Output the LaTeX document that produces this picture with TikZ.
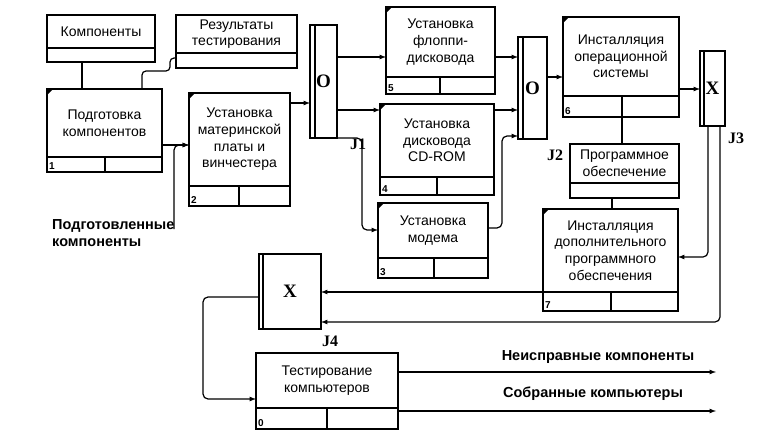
\documentclass[tikz,border=0pt]{standalone}
\usepackage{fontspec}
\setmainfont{Liberation Sans}
\newfontfamily\jfont{Liberation Serif}

\begin{document}
\begin{tikzpicture}[x=1pt, y=-1pt,
    act/.style={draw, line width=2pt, outer sep=0pt, inner sep=1pt, anchor=north west, align=center, font=\fontsize{14}{16.7}\selectfont},
    strip/.style={draw, line width=2pt, outer sep=0pt, anchor=north west},
    divline/.style={line width=2pt},
    num/.style={anchor=south west, inner sep=2pt, font=\bfseries\fontsize{10}{10}\selectfont},
    cornermark/.style={path picture={\fill (path picture bounding box.north west) -- ++(6pt,0pt) -- ++(-6pt,-6pt) -- cycle;}},
    junc/.style={draw, line width=2pt, outer sep=0pt, anchor=north west, font=\jfont\bfseries\fontsize{19}{19}\selectfont},
    jlab/.style={font=\jfont\bfseries\fontsize{16}{16}\selectfont},
    flow/.style={font=\bfseries\fontsize{14.5}{17}\selectfont},
    link/.style={line width=1.2pt},
    arr/.style={line width=1.2pt, -latex, rounded corners=5pt}]
    \useasboundingbox (0,0) rectangle (777,436);

    % boxes
    \node[act, minimum width=108, minimum height=33] (comp) at (47,15) {Компоненты};
    \node[strip, minimum width=108, minimum height=14] (comps) at (comp.south west) {};

    \node[act, minimum width=121, minimum height=38] (res) at (176,15) {Результаты\\тестирования};
    \node[strip, minimum width=121, minimum height=15] (ress) at (res.south west) {};

    \node[act, cornermark, minimum width=115, minimum height=68] (b1) at (47,89) {Подготовка\\компонентов};
    \node[strip, minimum width=115, minimum height=15] (b1s) at (b1.south west) {};
    \draw[divline] (b1s.north -| 105,0) -- (b1s.south -| 105,0);
    \node[num] (n1) at (b1s.south west) {1};

    \node[act, cornermark, minimum width=101, minimum height=93] (b2) at (189,93) {Установка\\материнской\\платы и\\винчестера};
    \node[strip, minimum width=101, minimum height=20] (b2s) at (b2.south west) {};
    \draw[divline] (b2s.north -| 239,0) -- (b2s.south -| 239,0);
    \node[num] (n2) at (b2s.south west) {2};

    \node[act, cornermark, minimum width=109, minimum height=70] (b5) at (386,7) {Установка\\флоппи-\\дисковода};
    \node[strip, minimum width=109, minimum height=17] (b5s) at (b5.south west) {};
    \draw[divline] (b5s.north -| 440,0) -- (b5s.south -| 440,0);
    \node[num] (n5) at (b5s.south west) {5};

    \node[act, cornermark, minimum width=114, minimum height=73] (b4) at (380,104) {Установка\\дисковода\\CD-ROM};
    \node[strip, minimum width=114, minimum height=18] (b4s) at (b4.south west) {};
    \draw[divline] (b4s.north -| 437,0) -- (b4s.south -| 437,0);
    \node[num] (n4) at (b4s.south west) {4};

    \node[act, cornermark, minimum width=110, minimum height=55] (b3) at (378,203) {Установка\\модема};
    \node[strip, minimum width=110, minimum height=20] (b3s) at (b3.south west) {};
    \draw[divline] (b3s.north -| 434,0) -- (b3s.south -| 434,0);
    \node[num] (n3) at (b3s.south west) {3};

    \node[act, cornermark, minimum width=116, minimum height=79] (b6) at (563,17) {Инсталляция\\операционной\\системы};
    \node[strip, minimum width=116, minimum height=21] (b6s) at (b6.south west) {};
    \draw[divline] (b6s.north -| 622,0) -- (b6s.south -| 622,0);
    \node[num] (n6) at (b6s.south west) {6};

    \node[act, minimum width=109, minimum height=39] (prog) at (570,144) {Программное\\обеспечение};
    \node[strip, minimum width=109, minimum height=15] (progs) at (prog.south west) {};

    \node[act, cornermark, minimum width=135, minimum height=83] (b7) at (543,209) {Инсталляция\\дополнительного\\программного\\обеспечения};
    \node[strip, minimum width=135, minimum height=19] (b7s) at (b7.south west) {};
    \draw[divline] (b7s.north -| 611,0) -- (b7s.south -| 611,0);
    \node[num] (n7) at (b7s.south west) {7};

    \node[act, minimum width=142, minimum height=55] (b0) at (256,353) {Тестирование\\компьютеров};
    \node[strip, minimum width=142, minimum height=21] (b0s) at (b0.south west) {};
    \draw[divline] (b0s.north -| 327,0) -- (b0s.south -| 327,0);
    \node[num] (n0) at (b0s.south west) {0};

    % junctions
    \node[junc, minimum width=27, minimum height=113] (j1) at (310,25) {O};
    \draw[divline] ([xshift=4.5pt]j1.north west) -- ([xshift=4.5pt]j1.south west);
    \node[jlab] (j1l) at (358,144) {J1};
    \node[junc, minimum width=29, minimum height=102] (j2) at (518,37) {O};
    \draw[divline] ([xshift=4.5pt]j2.north west) -- ([xshift=4.5pt]j2.south west);
    \node[jlab] (j2l) at (555,155) {J2};
    \node[junc, minimum width=25, minimum height=75] (j3) at (700,51) {X};
    \draw[divline] ([xshift=4pt]j3.north west) -- ([xshift=4pt]j3.south west);
    \node[jlab] (j3l) at (736,138) {J3};
    \node[junc, minimum width=62, minimum height=75] (j4) at (259,254) {X};
    \draw[divline] ([xshift=4pt]j4.north west) -- ([xshift=4pt]j4.south west);
    \node[jlab] (j4l) at (330,341) {J4};

    % free labels
    \node[flow, align=left, anchor=north west, inner sep=0pt] (inp) at (52,219) {Подготовленные\\компоненты};
    \coordinate (inpe) at (174,229);
    \node[flow] (out1l) at (598,357) {Неисправные компоненты};
    \node[flow] (out2l) at (593,394) {Собранные компьютеры};
    \coordinate (out1) at (716,372);
    \coordinate (out2) at (716,411);

    % connectors
    \draw[link] (comps.south -| 82,0) -- (b1.north -| 82,0);
    \draw[link, rounded corners=4pt] (b1.north -| 142,0) |- (170,71) |- (res.west |- 0,58);
    \draw[arr] (b1.east |- 0,145) -- (b2.west |- 0,145);
    \draw[arr] (inpe) |- (b2.west |- 0,145);
    \draw[arr] (b2.east |- 0,103) -- (j1.west |- 0,103);
    \draw[arr] (j1.east |- 0,57) -- (b5.west |- 0,57);
    \draw[arr] (j1.east |- 0,110) -- (b4.west |- 0,110);
    \draw[arr] (j1.south east) -| (362,230) -- (b3.west |- 0,230);
    \draw[arr] (b5.east |- 0,57) -- (j2.west |- 0,57);
    \draw[arr] (b4.east |- 0,110) -- (j2.west |- 0,110);
    \draw[arr] (b3.east |- 0,228) -| (502,136) -- (j2.west |- 0,136);
    \draw[arr] (j2.east |- 0,77) -- (b6.west |- 0,77);
    \draw[arr] (b6.east |- 0,89) -- (j3.west |- 0,89);
    \draw[link] (b6s.south -| 622,0) -- (prog.north -| 622,0);
    \draw[link] (progs.south -| 612,0) -- (b7.north -| 612,0);
    \draw[arr] (j3.south -| 708,0) |- (b7.east |- 0,257);
    \draw[arr] (j3.south -| 720,0) |- (j4.east |- 0,322);
    \draw[arr] (b7.west |- 0,292) -- (j4.east |- 0,292);
    \draw[arr] (j4.west |- 0,297) -| (203,399) -- (b0.west |- 0,399);
    \draw[arr] (b0.east |- 0,372) -- (out1);
    \draw[arr] (b0.east |- 0,411) -- (out2);
\end{tikzpicture}
\end{document}
